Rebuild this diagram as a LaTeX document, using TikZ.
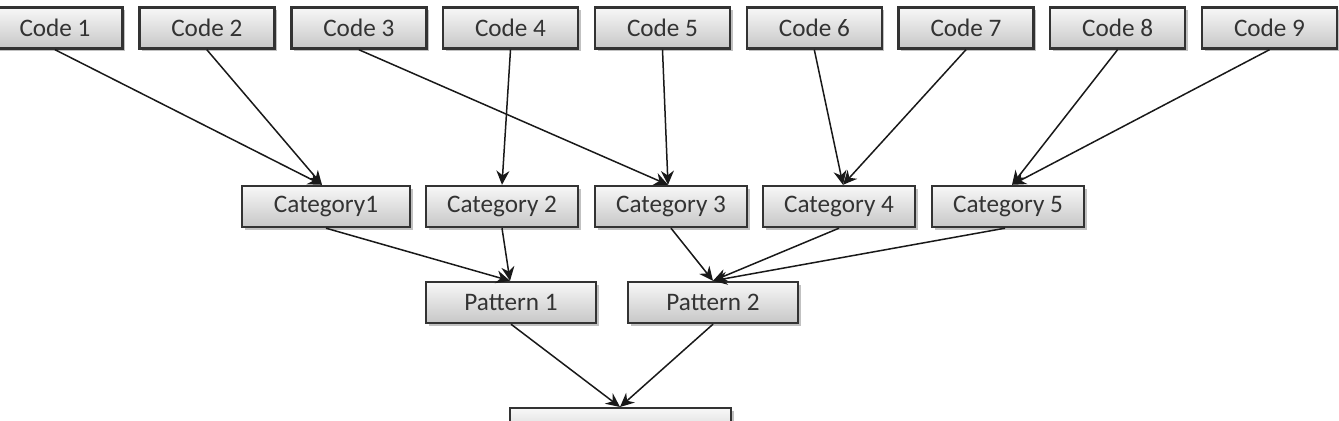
\documentclass[tikz,border=0pt]{standalone}
\usepackage{fontspec}
\setmainfont{Carlito}
\usetikzlibrary{arrows.meta,shadows}
\begin{document}
\begin{tikzpicture}[x=0.5pt,y=-0.5pt,
  box/.style={draw=black!80, line width=1.2pt, top color=black!3, bottom color=black!22,
    minimum height=20.5pt, inner sep=0pt, font=\fontsize{12.6}{14}\selectfont, text=black!80,
    drop shadow={shadow xshift=1.3pt, shadow yshift=-1.3pt, opacity=0.35, fill=black!70}},
  codebox/.style={box, minimum width=67.5pt},
  catbox/.style={box, minimum width=76pt},
  patbox/.style={box, minimum width=85pt},
  arr/.style={-{Stealth[length=7pt,width=6.5pt]}, line width=0.75pt, black!90}]
\useasboundingbox (0,0) rectangle (1339,421);
\clip (0,0) rectangle (1339,421);
% codes
\node[codebox] (c1) at (55,28) {Code 1};
\node[codebox] (c2) at (206.8,28) {Code 2};
\node[codebox] (c3) at (358.8,28) {Code 3};
\node[codebox] (c4) at (510.5,28) {Code 4};
\node[codebox] (c5) at (662.5,28) {Code 5};
\node[codebox] (c6) at (814.3,28) {Code 6};
\node[codebox] (c7) at (966,28) {Code 7};
\node[codebox] (c8) at (1117.6,28) {Code 8};
\node[codebox] (c9) at (1269.5,28) {Code 9};
% categories
\node[catbox, minimum width=84pt] (k1) at (326,206.5) {Category1};
\node[catbox] (k2) at (502,206.5) {Category 2};
\node[catbox] (k3) at (671,206.5) {Category 3};
\node[catbox] (k4) at (839,206.5) {Category 4};
\node[catbox] (k5) at (1008,206.5) {Category 5};
% patterns
\node[patbox] (p1) at (511,302.5) {Pattern 1};
\node[patbox] (p2) at (713,302.5) {Pattern 2};
% bottom (clipped)
\node[box, minimum width=110.5pt, minimum height=20pt, anchor=north] (th) at (620.5,407) {};
% coordinates for arrow ends
\coordinate (k1t) at ([xshift=-2pt]k1.north);
\coordinate (k3t) at ([xshift=-1.5pt]k3.north);
\coordinate (k4t) at ([xshift=2pt]k4.north);
\coordinate (k5t) at ([xshift=2pt]k5.north);
\coordinate (p1t) at ([xshift=-0.5pt]p1.north);
\coordinate (th1) at ([xshift=-0.25pt]th.north);
% arrows
\draw[arr] (c1.south) -- (k1t);
\draw[arr] (c2.south) -- (k1t);
\draw[arr] (c3.south) -- (k3t);
\draw[arr] (c4.south) -- (k2.north);
\draw[arr] (c5.south) -- (k3t);
\draw[arr] (c6.south) -- (k4t);
\draw[arr] (c7.south) -- (k4t);
\draw[arr] (c8.south) -- (k5t);
\draw[arr] (c9.south) -- (k5t);
\draw[arr] (k1.south) -- (p1t);
\draw[arr] (k2.south) -- (p1t);
\draw[arr] (k3.south) -- (p2.north);
\draw[arr] (k4.south) -- (p2.north);
\draw[arr] ([xshift=-1.5pt]k5.south) -- (p2.north);
\draw[arr] (p1.south) -- (th1);
\draw[arr] (p2.south) -- (th1);
\end{tikzpicture}
\end{document}
